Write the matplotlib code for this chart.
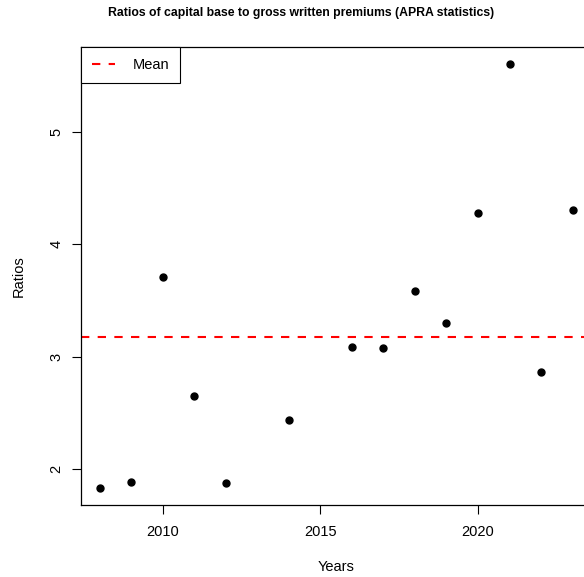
import numpy as np
import matplotlib
matplotlib.use("Agg")
import matplotlib.pyplot as plt

plt.rcParams['font.family'] = ['Liberation Sans', 'DejaVu Sans']

# APRA capital base / gross written premiums ratios (2013 and 2015 missing)
years = [2008, 2009, 2010, 2011, 2012, 2014, 2016, 2017, 2018, 2019, 2020, 2021, 2022, 2023]
ratios = [1.83, 1.89, 3.71, 2.65, 1.88, 2.44, 3.09, 3.08, 3.58, 3.30, 4.28, 5.60, 2.86, 4.30]
x_ticks = [2010, 2015, 2020]
y_ticks = [2, 3, 4, 5]

mean_ratio = np.mean(ratios)

fig = plt.figure(figsize=(5.84, 5.77), dpi=100)
# R-style plot region; the right edge runs a little past the device
ax = fig.add_axes([0.138, 0.1243, 0.875, 0.7938])

ax.plot(years, ratios, 'o', color='black', markersize=5)
ax.axhline(mean_ratio, color='red', linestyle=(0, (4, 4)), linewidth=1.5, label='Mean')

# pad the ranges by 4% like R does
xr = max(years) - min(years)
yr = max(ratios) - min(ratios)
ax.set_xlim(min(years) - 0.04 * xr, max(years) + 0.04 * xr)
ax.set_ylim(min(ratios) - 0.04 * yr, max(ratios) + 0.04 * yr)

ax.set_xticks(x_ticks)
ax.set_yticks(y_ticks)
ax.set_xticklabels([str(t) for t in x_ticks], fontsize=10.5)
ax.set_yticklabels([str(t) for t in y_ticks], fontsize=10.5, rotation=90, va='center')
ax.tick_params(axis='x', direction='out', length=6.5, width=0.8, pad=8)
ax.tick_params(axis='y', direction='out', length=6.5, width=0.8, pad=6)

for s in ax.spines.values():
    s.set_linewidth(0.9)
    s.set_color('black')

ax.set_xlabel('Years', fontsize=10.5, labelpad=15)
ax.set_ylabel('Ratios', fontsize=10.5, labelpad=17)
fig.suptitle('Ratios of capital base to gross written premiums (APRA statistics)',
             fontsize=8.8, fontweight='bold', x=0.516, y=0.988)

leg = ax.legend(loc='upper left', borderaxespad=0, fancybox=False, framealpha=1,
                edgecolor='black', fontsize=10.5, handlelength=1.6, handletextpad=1.2,
                borderpad=0.75)
leg.get_frame().set_linewidth(0.8)

fig.savefig('out.png', dpi=100)
